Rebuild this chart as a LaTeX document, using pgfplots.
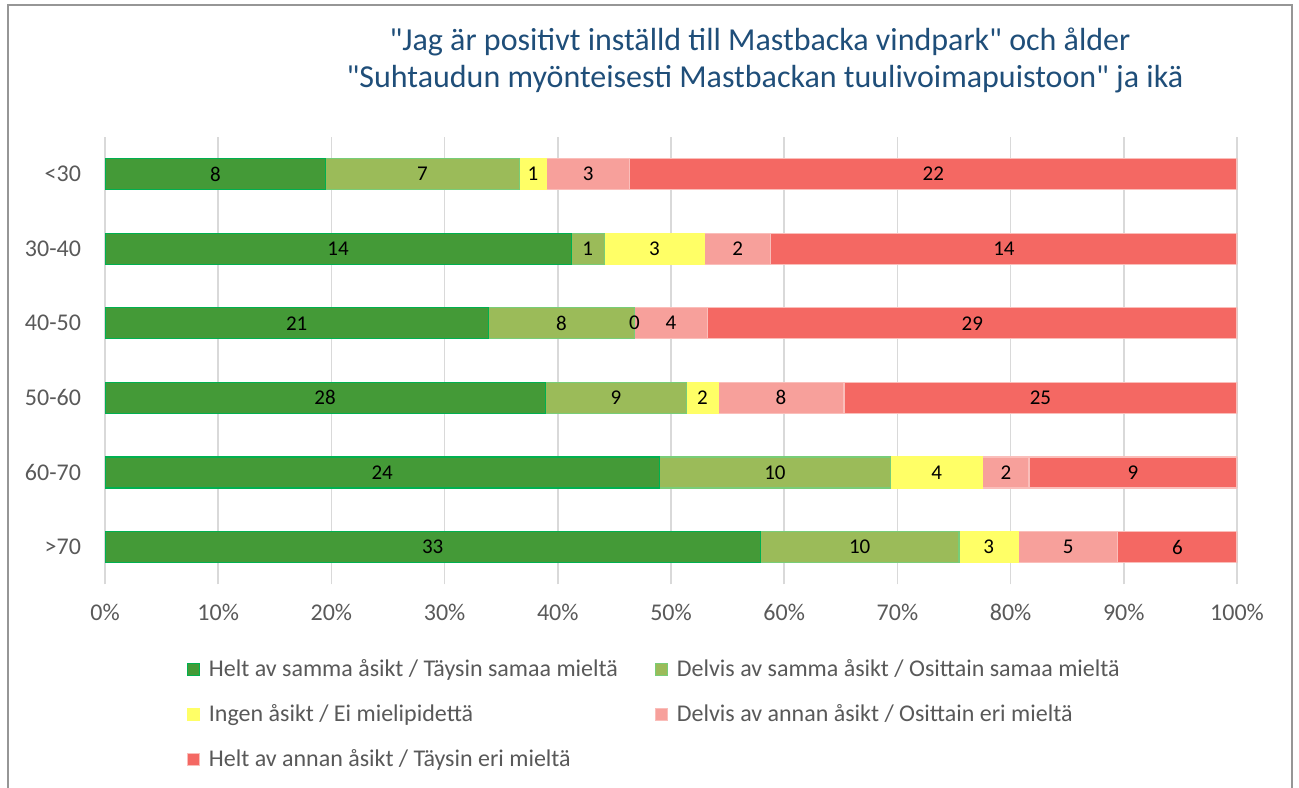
\documentclass[border=0pt]{standalone}
\usepackage{pgfplots}
\pgfplotsset{compat=1.18}
\usepackage{pgfplotstable}
\usepackage{fontspec}
\setmainfont{Carlito}
\newfontfamily\titlefont{Carlito}
\definecolor{cA}{RGB}{68,154,55}
\definecolor{cAb}{RGB}{0,176,80}
\definecolor{cB}{RGB}{155,187,89}
\definecolor{cBb}{RGB}{120,205,120}
\definecolor{cC}{RGB}{255,255,102}
\definecolor{cD}{RGB}{247,160,155}
\definecolor{cE}{RGB}{244,104,99}
\definecolor{cEb}{RGB}{250,190,186}
\definecolor{titleblue}{RGB}{31,78,121}
\definecolor{txtgray}{RGB}{89,89,89}
\definecolor{gridgray}{RGB}{217,217,217}
\definecolor{framegray}{RGB}{150,150,150}

% counts per age group: a..e = the five answers, n = total
\pgfplotstableread{
y a b c d e n
5 8 7 1 3 22 41
4 14 1 3 2 14 34
3 21 8 0 4 29 62
2 28 9 2 8 25 72
1 24 10 4 2 9 49
0 33 10 3 5 6 57
}\agedata

\begin{document}
\begin{tikzpicture}
\begin{scope}[x=0.5pt,y=0.5pt]
\useasboundingbox (0,0) rectangle (1299,787);
\draw[framegray,line width=0.8pt] (8,-5) -- (8,782) -- (1292,782) -- (1292,-5);
\node[titleblue,font=\titlefont\fontsize{16}{19}\selectfont] at (760,745) {"Jag är positivt inställd till Mastbacka vindpark" och ålder};
\node[titleblue,font=\titlefont\fontsize{16}{19}\selectfont] at (765,708) {"Suhtaudun myönteisesti Mastbackan tuulivoimapuistoon" ja ikä};
\end{scope}
\begin{axis}[
  at={(52.5pt,101.35pt)}, anchor=south west,
  scale only axis, width=566pt, height=223.8pt,
  xmin=0, xmax=100, ymin=-0.5, ymax=5.5,
  xtick={0,10,...,100},
  xticklabel={\pgfmathprintnumber{\tick}\%},
  ytick={0,1,2,3,4,5},
  yticklabels={>70,60-70,50-60,40-50,30-40,<30},
  axis line style={draw=none},
  tick style={draw=none},
  xmajorgrids, major grid style={gridgray,line width=0.75pt},
  ticklabel style={font=\fontsize{12}{14}\selectfont, text=txtgray},
  /pgf/number format/assume math mode=true,
  xticklabel style={yshift=-6.5pt},
  yticklabel style={xshift=-8.5pt},
  legend columns=2,
  legend cell align=left,
  legend image code/.code={\draw[#1,line width=0.5pt] (0pt,-3pt) rectangle (6pt,3pt);},
  legend style={at={(0.072,-0.158)}, anchor=north west, draw=none, inner sep=0pt,
     font=\fontsize{12}{14}\selectfont, text=txtgray, row sep=8.5pt,
     /tikz/every odd column/.append style={column sep=2.5pt},
     /tikz/every even column/.append style={column sep=16.5pt}},
]
\addlegendimage{fill=cA, draw=cAb}
\addlegendentry{Helt av samma åsikt / Täysin samaa mieltä}
\addlegendimage{fill=cB, draw=cBb}
\addlegendentry{Delvis av samma åsikt / Osittain samaa mieltä}
\addlegendimage{fill=cC, draw=cC}
\addlegendentry{Ingen åsikt / Ei mielipidettä}
\addlegendimage{fill=cD, draw=cEb}
\addlegendentry{Delvis av annan åsikt / Osittain eri mieltä}
\addlegendimage{fill=cE, draw=cEb}
\addlegendentry{Helt av annan åsikt / Täysin eri mieltä}
% segments drawn as cumulative bars, last answer first
\addplot[xbar, bar width=15.5pt, bar shift=0pt, fill=cE, draw=cEb, line width=0.6pt, forget plot]
  table[x expr=(\thisrow{a}+\thisrow{b}+\thisrow{c}+\thisrow{d}+\thisrow{e})/\thisrow{n}*100, y=y] {\agedata};
\addplot[xbar, bar width=15.5pt, bar shift=0pt, fill=cD, draw=cEb, line width=0.6pt, forget plot]
  table[x expr=(\thisrow{a}+\thisrow{b}+\thisrow{c}+\thisrow{d})/\thisrow{n}*100, y=y] {\agedata};
\addplot[xbar, bar width=15.5pt, bar shift=0pt, fill=cC, draw=cC, line width=0.6pt, forget plot]
  table[x expr=(\thisrow{a}+\thisrow{b}+\thisrow{c})/\thisrow{n}*100, y=y] {\agedata};
\addplot[xbar, bar width=15.5pt, bar shift=0pt, fill=cB, draw=cBb, line width=0.6pt, forget plot]
  table[x expr=(\thisrow{a}+\thisrow{b})/\thisrow{n}*100, y=y] {\agedata};
\addplot[xbar, bar width=15.5pt, bar shift=0pt, fill=cA, draw=cAb, line width=0.6pt, forget plot]
  table[x expr=\thisrow{a}/\thisrow{n}*100, y=y] {\agedata};
% count labels at segment centres
\pgfplotsset{labelplot/.style={draw=none, mark=none, forget plot, point meta=explicit,
  nodes near coords={\pgfmathprintnumber{\pgfplotspointmeta}},
  every node near coord/.style={anchor=center, font=\fontsize{10.5}{12}\selectfont, text=black}}}
\addplot[labelplot] table[x expr=(\thisrow{a}/2)/\thisrow{n}*100, y=y, meta=a] {\agedata};
\addplot[labelplot] table[x expr=(\thisrow{a}+\thisrow{b}/2)/\thisrow{n}*100, y=y, meta=b] {\agedata};
\addplot[labelplot] table[x expr=(\thisrow{a}+\thisrow{b}+\thisrow{c}/2)/\thisrow{n}*100, y=y, meta=c] {\agedata};
\addplot[labelplot] table[x expr=(\thisrow{a}+\thisrow{b}+\thisrow{c}+\thisrow{d}/2)/\thisrow{n}*100, y=y, meta=d] {\agedata};
\addplot[labelplot] table[x expr=(\thisrow{a}+\thisrow{b}+\thisrow{c}+\thisrow{d}+\thisrow{e}/2)/\thisrow{n}*100, y=y, meta=e] {\agedata};
\end{axis}
\end{tikzpicture}
\end{document}
